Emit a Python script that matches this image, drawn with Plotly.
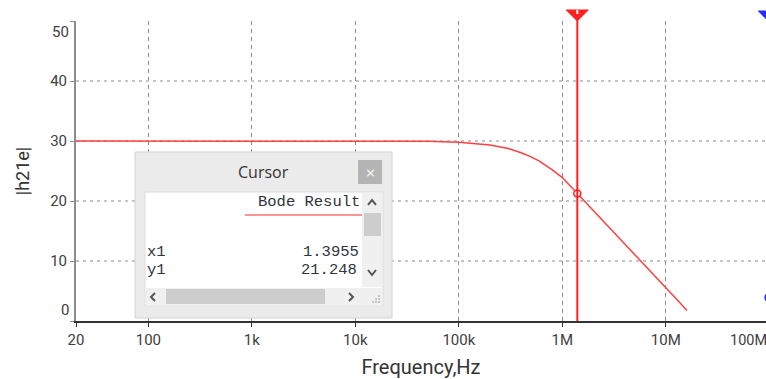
import math
import plotly.graph_objects as go

# Bode magnitude of |h21e| versus frequency
freq_hz = [20, 1e3, 1e4, 5e4, 1e5, 1.5e5, 2e5, 3e5, 4e5, 5e5, 6e5, 8e5, 1e6,
           1.3955e6, 2e6, 3e6, 5e6, 7e6, 1e7, 1.3e7, 1.6e7]
h21e = [30.0, 30.0, 30.0, 29.95, 29.8, 29.6, 29.35, 28.75, 28.05, 27.35, 26.65,
        25.2, 23.9, 21.248, 18.4, 15.1, 11.05, 8.4, 5.55, 3.45, 1.75]

# Cursor readout
cursor_x = 1.3955e6
cursor_y = 21.248
cursor2_x = 1.0e8
cursor2_y = 3.9

tick_vals = [20, 100, 1e3, 1e4, 1e5, 1e6, 1e7, 1e8]
tick_text = ["20", "100", "1k", "10k", "100k", "1M", "10M", "100M"]
y_ticks = [0, 10, 20, 30, 40, 50]

W, H = 766, 379
ML, MR, MT, MB = 76, 0, 21, 58
DECADE = 103.5
XMIN = math.log10(20)
XMAX = XMIN + (W - ML - MR) / DECADE
PW, PH = W - ML - MR, H - MT - MB


def px(x):
    return (x - ML) / PW


def py(y):
    return (H - MB - y) / PH


def fx(f):
    return (math.log10(f) - XMIN) / (XMAX - XMIN)


def fpix(f):
    return ML + (math.log10(f) - XMIN) * DECADE


RED = "#ff2020"
BLUE = "#2a2aff"
TXT = "#404040"

fig = go.Figure()

fig.add_trace(go.Scatter(
    x=freq_hz, y=h21e, mode="lines", line=dict(color="#ff4040", width=1.5),
    hoverinfo="skip", showlegend=False))

# cursor point on the curve
fig.add_trace(go.Scatter(
    x=[cursor_x], y=[cursor_y], mode="markers", cliponaxis=False,
    marker=dict(symbol="circle", size=7, color="white",
                line=dict(color=RED, width=1.5)),
    showlegend=False, hoverinfo="skip"))


def rect(x0, y0, x1, y1, fill, line=None, lw=1):
    return dict(type="rect", xref="paper", yref="paper",
                x0=px(x0), x1=px(x1), y0=py(y1), y1=py(y0),
                fillcolor=fill, line=dict(color=line or fill, width=lw if line else 0),
                layer="above")


def path(pts, color="#555", width=2, fill=None, closed=False):
    d = "M " + " L ".join(f"{px(a):.5f},{py(b):.5f}" for a, b in pts)
    if closed:
        d += " Z"
    s = dict(type="path", xref="paper", yref="paper", path=d,
             line=dict(color=color, width=width), layer="above")
    if fill:
        s["fillcolor"] = fill
    return s


shapes = []
# cursor 1: vertical line and handle
cx = fpix(cursor_x)
shapes.append(dict(type="line", xref="paper", yref="paper",
                   x0=fx(cursor_x), x1=fx(cursor_x), y0=0, y1=py(14),
                   line=dict(color=RED, width=2), layer="above"))
shapes.append(path([(cx - 11, 10), (cx + 11, 10), (cx, 21)], color=RED, width=1,
                   fill=RED, closed=True))
shapes.append(rect(cx - 1, 10, cx + 1, 14, "white"))

# cursor 2 handle and its point, at the right edge
c2 = fpix(cursor2_x)
shapes.append(path([(c2 - 11, 11), (c2 + 11, 11), (c2, 22)], color=BLUE, width=1,
                   fill=BLUE, closed=True))
c2y = H - MB - cursor2_y / 50 * PH
shapes.append(dict(type="circle", xref="paper", yref="paper",
                   x0=px(c2 - 5), x1=px(c2 + 5), y0=py(c2y + 5), y1=py(c2y - 5),
                   fillcolor=BLUE, line=dict(width=0), layer="above"))

# Cursor dialog
shapes += [
    rect(135, 152, 392, 318, "#ebebeb", "#d4d4d4"),
    rect(358, 160, 382, 184, "#b4b4b4"),
    rect(145, 192, 383, 306, "white", "#dddddd"),
    rect(362, 193, 382, 287, "#f0f0f0"),
    rect(364, 213, 381, 236, "#cdcdcd"),
    rect(146, 288, 382, 305, "#f0f0f0"),
    rect(166, 289, 325, 304, "#cdcdcd"),
    path([(368, 205), (372, 200), (376, 205)]),
    path([(368, 270), (372, 275), (376, 270)]),
    path([(155, 293), (151, 297), (155, 301)]),
    path([(349, 293), (353, 297), (349, 301)]),
    dict(type="line", xref="paper", yref="paper", x0=px(245), x1=px(362),
         y0=py(215), y1=py(215), line=dict(color="#ff7070", width=1.5), layer="above"),
]
for gx, gy in [(379, 296), (376, 299), (379, 299), (373, 302), (376, 302), (379, 302)]:
    shapes.append(rect(gx - 0.7, gy - 0.7, gx + 0.7, gy + 0.7, "#9a9a9a"))

MONO = "Liberation Mono"
annotations = [
    dict(text="Cursor", x=px(263), y=py(172), font=dict(family="Open Sans", size=16, color="#333")),
    dict(text="×", x=px(370), y=py(172), font=dict(family="DejaVu Sans", size=13, color="white")),
    dict(text="Bode Result", x=px(362), y=py(202), xanchor="right",
         font=dict(family=MONO, size=15.5, color="#2e3440")),
    dict(text="x1", x=px(145), y=py(252), xanchor="left",
         font=dict(family=MONO, size=15.5, color="#2e3440")),
    dict(text="y1", x=px(145), y=py(270), xanchor="left",
         font=dict(family=MONO, size=15.5, color="#2e3440")),
    dict(text=f"{cursor_x / 1e6:.4f}", x=px(361), y=py(252), xanchor="right",
         font=dict(family=MONO, size=15.5, color="#2e3440")),
    dict(text=f"{cursor_y:.3f}", x=px(359), y=py(270), xanchor="right",
         font=dict(family=MONO, size=15.5, color="#2e3440")),
    # end labels of the value axis and the last decade label
    dict(text="50", x=px(71), y=py(32), xanchor="right",
         font=dict(family="Roboto", size=15, color=TXT)),
    dict(text="0", x=px(71), y=py(310), xanchor="right",
         font=dict(family="Roboto", size=15, color=TXT)),
    dict(text="100M", x=px(728), y=py(340), xanchor="left",
         font=dict(family="Roboto", size=14.5, color=TXT)),
]
for a in annotations:
    a.update(xref="paper", yref="paper", showarrow=False)
    a.setdefault("xanchor", "center")
    a.setdefault("yanchor", "middle")

fig.update_layout(
    width=W, height=H,
    margin=dict(l=ML, r=MR, t=MT, b=MB, pad=0),
    paper_bgcolor="white", plot_bgcolor="white",
    shapes=shapes, annotations=annotations,
    xaxis=dict(
        type="log", range=[XMIN, XMAX], tickvals=tick_vals, ticktext=tick_text,
        showgrid=True, gridcolor="#8a8a8a", griddash="4px,4px", gridwidth=1,
        showline=True, linecolor="#333", linewidth=1.5,
        ticks="outside", ticklen=4, tickcolor="#333",
        tickfont=dict(family="Roboto", size=15, color=TXT),
        title=dict(text="Frequency,Hz", standoff=12,
                   font=dict(family="Roboto", size=20, color="#333")),
        zeroline=False, fixedrange=True),
    yaxis=dict(
        range=[0, 50], tickvals=y_ticks,
        ticktext=["" if v in (0, 50) else str(v) for v in y_ticks],
        showgrid=True, gridcolor="#c4c4c4", griddash="3px,4px", gridwidth=1.5,
        showline=True, linecolor="#8c8c8c", linewidth=2,
        ticks="outside", ticklen=4, tickcolor="#888",
        tickfont=dict(family="Roboto", size=15, color=TXT),
        title=dict(text="|h21e|", standoff=16,
                   font=dict(family="Roboto", size=18, color="#333")),
        zeroline=False, fixedrange=True),
    hovermode=False,
)

fig.write_html("out.html", config=dict(displayModeBar=False))
